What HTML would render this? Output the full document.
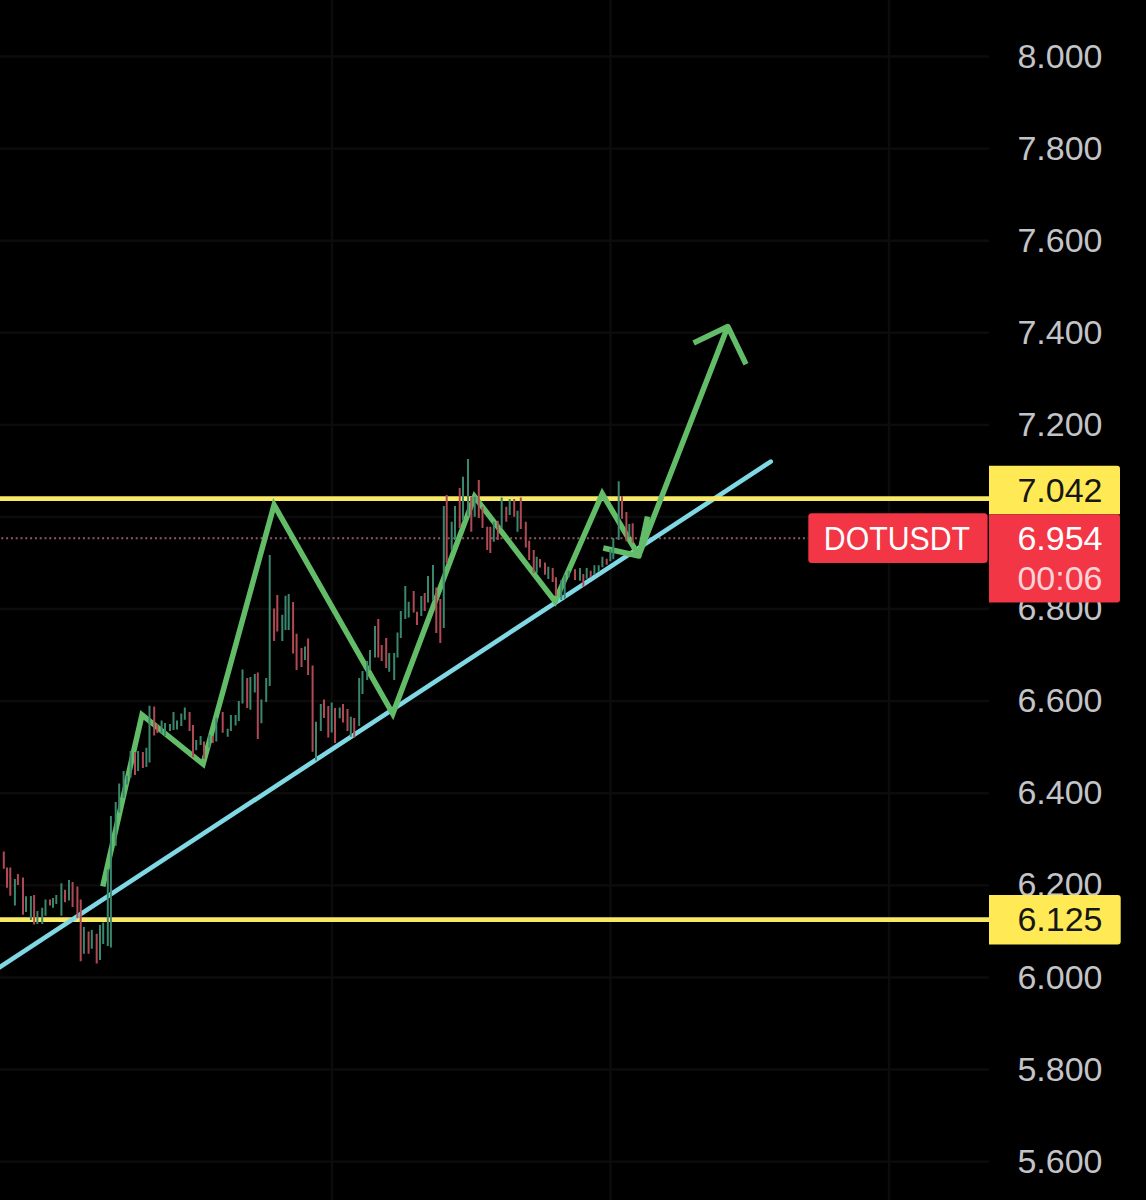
<!DOCTYPE html>
<html><head><meta charset="utf-8"><title>DOTUSDT</title><style>
html,body{margin:0;padding:0;background:#000;}
body{width:1146px;height:1200px;overflow:hidden;position:relative;}
svg{position:absolute;left:0;top:0;display:block;}
text{font-family:"Liberation Sans",Arial,sans-serif;}
</style></head><body>
<svg width="1146" height="1200" viewBox="0 0 1146 1200">
<rect x="0" y="0" width="1146" height="1200" fill="#000"/>
<path d="M0 56.5 H989 M0 148.59 H989 M0 240.69 H989 M0 332.78 H989 M0 424.88 H989 M0 516.98 H989 M0 609.07 H989 M0 701.16 H989 M0 793.26 H989 M0 885.36 H989 M0 977.45 H989 M0 1069.55 H989 M0 1161.64 H989 M332 0 V1200 M610.5 0 V1200 M889 0 V1200" stroke="#0c0c0c" stroke-width="2.4" fill="none"/>
<path d="M0 538.2 H808" stroke="#8a5a5f" stroke-width="2" stroke-dasharray="2 2.8" stroke-dashoffset="-1.3" fill="none"/>
<path d="M0 919.6 H990" stroke="#f8e964" stroke-width="4.6" fill="none"/>
<path d="M-2 968.3 L770.7 461.6" stroke="#7fd8e3" stroke-width="4.6" stroke-linecap="round" fill="none"/>
<path d="M0 498.6 H990" stroke="#f8e964" stroke-width="4.6" fill="none"/>
<path d="M102.8 886.3 L142 714.9 L203.06 764.03 L274.09 504.94 L392.79 713.84 L474.53 496.6 L555.05 601.44 L602.26 493.82 L639 556" stroke="#63bd68" stroke-width="5.5" stroke-linejoin="miter" stroke-linecap="butt" fill="none"/>
<path d="M603.3 548 L639 556 L647.5 516.5 M639 555 L727.8 326.5 M693.6 343 L727.8 326.5 L746 364.2" stroke="#63bd68" stroke-width="5.5" stroke-linejoin="round" stroke-linecap="butt" fill="none"/>
<defs><filter id="sb" x="-5%" y="-5%" width="110%" height="110%"><feGaussianBlur stdDeviation="0.45"/></filter></defs>
<g filter="url(#sb)">
<path d="M3.8 851.4V868.7 M7 867.6V887.7 M10.3 867.6V895.8 M17.9 874V885 M23 877.4V914.7 M34.1 895V924.5 M50 899.6V905.5 M65 889.8V902.3 M72.6 882V907 M77.4 886.6V918 M80.7 899.6V961.3 M88.6 931.5V953.7 M96.7 933.7V963.5 M135 752V775 M142.9 752V768 M154.2 706.6V735.5 M157.3 724V733 M189.6 711.9V731 M193 725V757.3 M204 741.6V759 M212.8 736V743 M222.7 712V732.8 M247.2 678V708 M257.8 672.6V739 M274.1 608.5V641 M277.3 595V631.4 M293.1 602V653.6 M296.6 633.8V670 M301.5 648V667 M308.1 638.6V675 M312.6 665.5V751.8 M324 699.5V718 M328.3 706V737.5 M335 708V743 M343 704V722.5 M347.5 709V731 M354.2 718V737.5 M378.3 619V657.5 M381.7 645V661 M386.2 638V668 M413.7 591V612.5 M417 611.7V625 M424.7 593V611 M436.3 587.5V633 M440.3 599V643 M446.7 495V563 M459.7 488V528 M471.3 496.7V531.7 M478.8 480V518 M482.5 506.7V528 M487.2 526.7V550 M490.3 526.7V553 M497.8 520.8V540 M506.3 506.7V521.7 M514.2 499V516.7 M520.8 497.5V529 M525.8 521.7V547.5 M529.2 540.8V560 M533.7 550V573 M540 559V567.5 M545 562.5V574.7 M552.7 568V582 M556 577.3V596 M575 569.3V580 M583.3 574V586.7 M590.7 570.7V577.3 M606.7 558.7V564.7 M622 496V518.7 M626.4 512V541.3 M632.7 523.3V542.7" stroke="#b04a52" stroke-width="2.0" fill="none"/>
<path d="M14.9 879V905.5 M26 896.3V912 M30.9 896V920 M37.4 911V924 M42.2 907.7V924 M45.5 899.6V915.8 M53 898V907.7 M56.3 895V904 M61.4 883.3V915.8 M69 880V900.6 M83.9 927V953.7 M91.8 930V948.8 M100 925V960 M103.2 922.6V944 M107.8 869.4V946 M110.9 816V947.4 M115.7 802V845.7 M119.2 783.6V812.4 M123.6 771V798 M127 775.7V784.5 M130.6 751V777.5 M138.1 751V771 M146.4 747.7V767 M149.5 705.7V762.6 M161.6 720.6V733.7 M165 723V736 M170 724V731 M173.5 711.9V730 M177 720.6V729.4 M181.3 713.6V726 M184.8 707.5V719.7 M196.2 739.9V750.3 M200.6 736V745 M209.3 734.6V747.7 M216.3 717.7V741.5 M227.7 728.8V736.7 M230.9 715V731 M235.6 715V725.6 M238.8 701V721 M242.5 669.4V703.5 M250.4 677V709.8 M254.8 674V692.4 M261.4 699.5V723.3 M266.2 678V702 M269.7 555V686 M282.3 614.8V641 M285.5 595.8V629.9 M288.7 594V629.9 M305 646.5V660 M316 721.7V760.5 M320.8 704V731 M331.7 702.5V732.5 M339.7 707.5V718.3 M350.8 716.7V736.7 M359.2 678V726 M362.5 671V694 M367.2 661V680 M370 650V670 M375 626V657.5 M389.2 653V671.7 M394.2 653V680 M397.5 632.5V657.5 M400.8 611V638 M405.3 586V619 M408.7 601.7V617.5 M421.3 596V616 M428 576V602.5 M433 565V600 M443.8 506V628 M451.7 521.7V550 M455 506V540 M463 476.7V520 M468 459V516 M474.7 496.7V516.7 M493.8 521.7V541.7 M501.7 497.5V528 M509.7 499V515 M517.5 510.8V531.7 M536.7 556.7V573 M548.3 566.7V579 M561.3 580V600 M564.7 574.7V598.7 M568.7 570.7V577.3 M580 568V580.7 M586.7 568V578.7 M594.4 565.3V574.7 M598.7 565.3V572 M602.4 556.7V567.3 M610.4 549.3V561.3 M613.3 538V559.3 M618.7 481.3V540 M629.3 524V537.3" stroke="#3a876d" stroke-width="2.0" fill="none"/>
</g>
<text x="1102.5" y="67.7" font-size="34" fill="#c3c4c8" text-anchor="end">8.000</text>
<text x="1102.5" y="159.78" font-size="34" fill="#c3c4c8" text-anchor="end">7.800</text>
<text x="1102.5" y="251.86" font-size="34" fill="#c3c4c8" text-anchor="end">7.600</text>
<text x="1102.5" y="343.94" font-size="34" fill="#c3c4c8" text-anchor="end">7.400</text>
<text x="1102.5" y="436.02" font-size="34" fill="#c3c4c8" text-anchor="end">7.200</text>
<text x="1102.5" y="620.18" font-size="34" fill="#c3c4c8" text-anchor="end">6.800</text>
<text x="1102.5" y="712.26" font-size="34" fill="#c3c4c8" text-anchor="end">6.600</text>
<text x="1102.5" y="804.34" font-size="34" fill="#c3c4c8" text-anchor="end">6.400</text>
<text x="1102.5" y="896.42" font-size="34" fill="#c3c4c8" text-anchor="end">6.200</text>
<text x="1102.5" y="988.5" font-size="34" fill="#c3c4c8" text-anchor="end">6.000</text>
<text x="1102.5" y="1080.58" font-size="34" fill="#c3c4c8" text-anchor="end">5.800</text>
<text x="1102.5" y="1172.66" font-size="34" fill="#c3c4c8" text-anchor="end">5.600</text>
<path d="M989 465.7 H1117 a3 3 0 0 1 3 3 V514.3 H989 Z" fill="#ffea55"/>
<text x="1102.5" y="501.6" font-size="34" fill="#161616" text-anchor="end">7.042</text>
<path d="M989 514.3 H1117 a3 3 0 0 1 3 3 V599.5 a3 3 0 0 1 -3 3 H989 Z" fill="#f23645"/>
<text x="1102.5" y="550" font-size="34" fill="#ffffff" text-anchor="end">6.954</text>
<text x="1102.5" y="589.7" font-size="34" fill="#fad3d7" text-anchor="end">00:06</text>
<path d="M989 894.9 H1117.7 a3 3 0 0 1 3 3 V941.4 a3 3 0 0 1 -3 3 H989 Z" fill="#ffea55"/>
<text x="1102.5" y="931" font-size="34" fill="#161616" text-anchor="end">6.125</text>
<rect x="808.3" y="513.2" width="179.3" height="49.7" rx="3.5" ry="3.5" fill="#f23645"/>
<text x="823.8" y="550.4" font-size="34" fill="#ffffff" textLength="146.2" lengthAdjust="spacingAndGlyphs">DOTUSDT</text>
</svg>
</body></html>
